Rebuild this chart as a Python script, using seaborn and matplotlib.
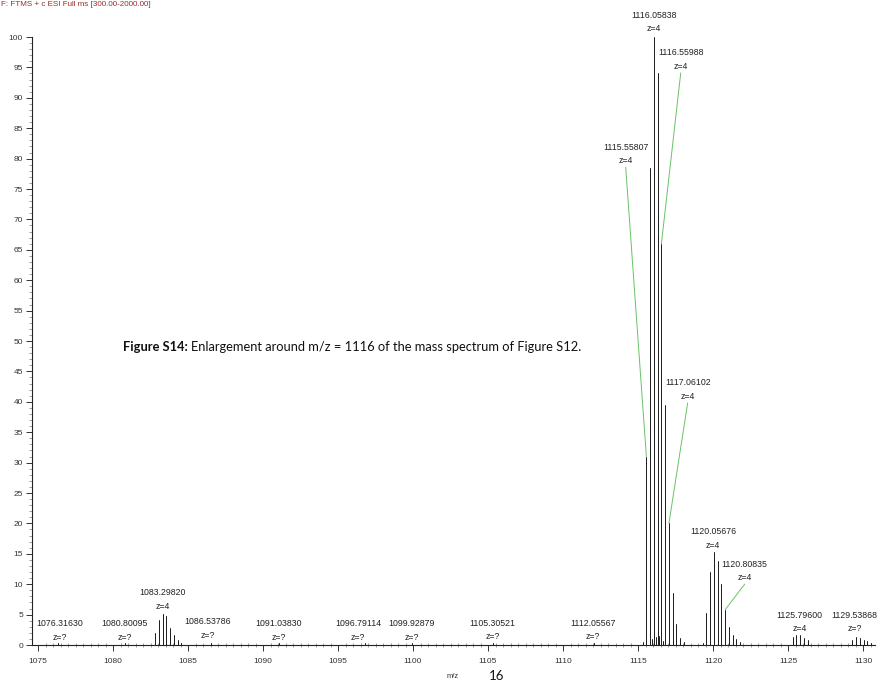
import numpy as np
import pandas as pd
import matplotlib
matplotlib.use("Agg")
import matplotlib.pyplot as plt
import seaborn as sns
from matplotlib.ticker import MultipleLocator

# ---------------- data ----------------
mz = [1076.32, 1080.80,
      1082.80, 1083.05, 1083.30, 1083.55, 1083.80, 1084.05, 1084.30, 1084.55,
      1086.54, 1091.04, 1096.79, 1099.93, 1105.31, 1112.06,
      1115.31, 1115.558, 1115.808, 1116.058, 1116.309, 1116.560, 1116.811,
      1117.061, 1117.31, 1117.56, 1117.81, 1118.06,
      1115.94, 1116.17, 1116.43, 1116.68,
      1119.31, 1119.56, 1119.81, 1120.057, 1120.31, 1120.56, 1120.808,
      1121.06, 1121.31, 1121.56, 1121.81,
      1125.30, 1125.55, 1125.80, 1126.05, 1126.30,
      1129.29, 1129.54, 1129.79, 1130.04, 1130.29, 1130.54]
intensity = [0.3, 0.3,
             2.0, 4.1, 5.1, 4.7, 2.8, 1.6, 0.9, 0.3,
             0.4, 0.3, 0.4, 0.3, 0.3, 0.3,
             0.5, 31.0, 78.5, 100.0, 94.0, 66.0, 39.5,
             20.0, 8.5, 3.5, 1.2, 0.5,
             1.0, 1.3, 1.5, 0.6,
             0.4, 5.2, 12.0, 15.3, 13.8, 10.0, 5.8,
             3.0, 1.6, 1.0, 0.5,
             1.3, 1.6, 1.6, 1.1, 0.8,
             0.9, 1.3, 1.1, 0.8, 0.6, 0.4]

label_text = ["1076.31630", "1080.80095", "1083.29820", "1086.53786", "1091.03830",
              "1096.79114", "1099.92879", "1105.30521", "1112.05567", "1115.55807",
              "1116.05838", "1116.55988", "1117.06102", "1120.05676", "1120.80835",
              "1125.79600", "1129.53868"]
label_charge = ["z=?", "z=?", "z=4", "z=?", "z=?", "z=?", "z=?", "z=?", "z=?", "z=4",
                "z=4", "z=4", "z=4", "z=4", "z=4", "z=4", "z=?"]
# label placement (layout)
label_x = [1076.45, 1080.78, 1083.33, 1086.33, 1091.05, 1096.33, 1099.89, 1105.29,
           1112.0, 1114.18, 1116.07, 1117.85, 1118.31, 1120.0, 1122.11, 1125.78, 1129.45]
label_y = [3.5, 3.5, 8.6, 3.8, 3.5, 3.5, 3.5, 3.6, 3.6, 81.9, 103.6, 97.4, 43.1,
           18.6, 13.3, 4.9, 4.9]
# leader lines: label index -> peak m/z
leader_label = [9, 11, 12, 14]
leader_peak = [1115.558, 1116.560, 1117.061, 1120.808]

# ---------------- figure ----------------
sns.set_theme(style="ticks")
plt.rcParams["font.family"] = ["Liberation Sans", "DejaVu Sans"]

W, H = 880, 684
fig = plt.figure(figsize=(W / 100, H / 100), dpi=100)
ax = fig.add_axes([32 / W, 39 / H, 843 / W, 608 / H])

rows = []
for i, (m, v) in enumerate(zip(mz, intensity)):
    rows.append({"mz": m, "rel": 0.0, "peak": i})
    rows.append({"mz": m, "rel": v, "peak": i})
df = pd.DataFrame(rows)
sns.lineplot(data=df, x="mz", y="rel", units="peak", estimator=None,
             color="#1a1a1a", lw=0.7, ax=ax, legend=False)

ax.set_xlim(1074.6, 1130.8)
ax.set_ylim(0, 100)
ax.set_xlabel("")
ax.set_ylabel("")
for s in ["top", "right"]:
    ax.spines[s].set_visible(False)
for s in ["left", "bottom"]:
    ax.spines[s].set_linewidth(0.8)
    ax.spines[s].set_color("#222222")

ax.xaxis.set_major_locator(MultipleLocator(5))
ax.xaxis.set_minor_locator(MultipleLocator(0.5))
ax.yaxis.set_major_locator(MultipleLocator(5))
ax.yaxis.set_minor_locator(MultipleLocator(1))
ax.tick_params(axis="both", which="major", labelsize=6.0, labelcolor="#333333",
               length=4.5, width=0.7, color="#333333", pad=2)
ax.tick_params(axis="x", which="major", pad=5)
ax.tick_params(axis="both", which="minor", length=2.2, width=0.5, color="#777777")
ax.tick_params(axis="x", which="minor", direction="inout", length=3)

# peak labels
for t, z, x, y in zip(label_text, label_charge, label_x, label_y):
    ax.text(x, y, t, ha="center", va="center", fontsize=6.3, color="#222222",
            clip_on=False)
    ax.text(x, y - 2.25, z, ha="center", va="center", fontsize=6.3, color="#222222",
            clip_on=False)

# leader lines
mz_arr = np.array(mz)
int_arr = np.array(intensity)
for li, pm in zip(leader_label, leader_peak):
    top = int_arr[np.argmin(np.abs(mz_arr - pm))]
    ax.plot([label_x[li], pm], [label_y[li] - 3.3, top], color="#66c466",
            lw=0.7, clip_on=False)

# header
fig.text(1 / W, 1 - 0.5 / H, "F: FTMS + c ESI Full ms [300.00-2000.00]",
         fontsize=5.8, color="#9a2b2b", ha="left", va="top")

# caption
cap_y = 1 - 347 / H
t1 = fig.text(123 / W, cap_y, "Figure S14:", fontsize=9.3, fontweight="bold",
              family=["Lato", "DejaVu Sans"], ha="left", va="center", color="#111111")
fig.canvas.draw()
r = fig.canvas.get_renderer()
bb = t1.get_window_extent(r)
fig.text(bb.x1 / W + 3 / W, cap_y,
         "Enlargement around m/z = 1116 of the mass spectrum of Figure S12.",
         fontsize=9.3, family=["Lato", "DejaVu Sans"], ha="left", va="center",
         color="#111111")

fig.text(453 / W, 1 - 676 / H, "m/z", fontsize=5.5, color="#333333",
         ha="center", va="center")
fig.text(497 / W, 1.5 / H, "16", fontsize=9.5, family=["Lato", "DejaVu Sans"],
         color="#111111", ha="center", va="bottom")

fig.savefig("out.png", dpi=100)
